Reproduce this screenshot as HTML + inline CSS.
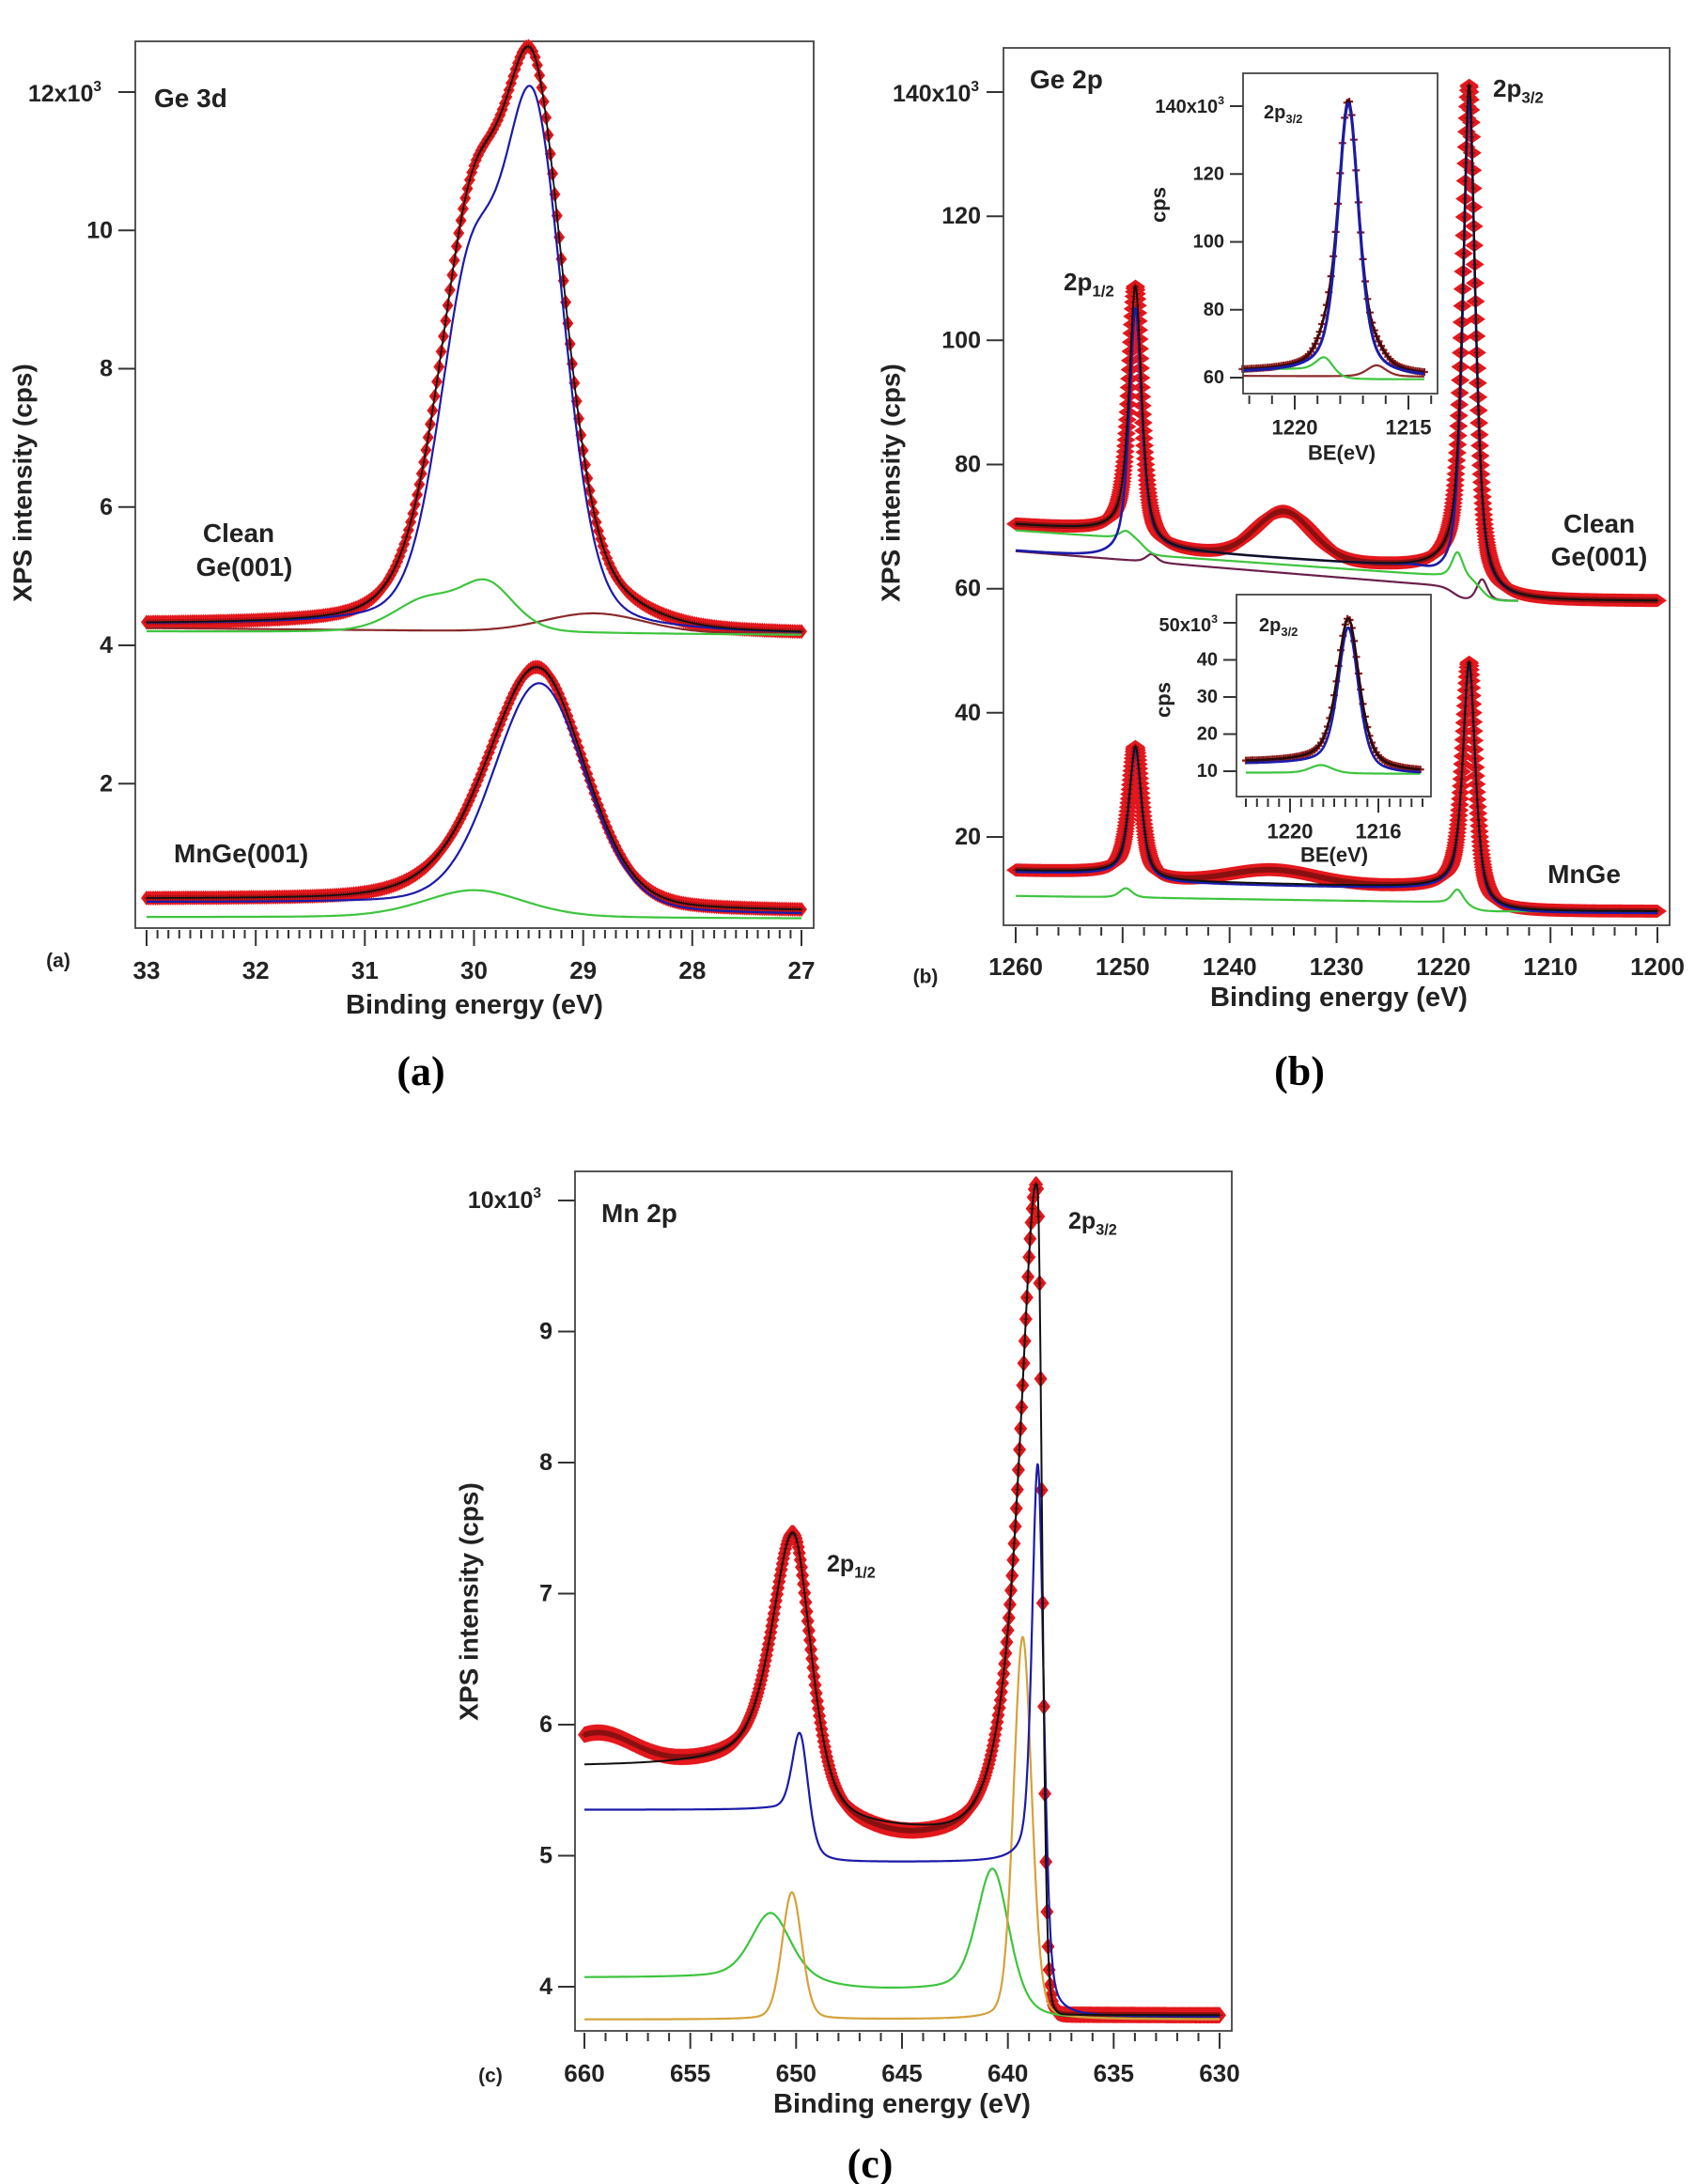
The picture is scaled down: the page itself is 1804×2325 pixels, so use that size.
<!DOCTYPE html>
<html><head><meta charset="utf-8">
<style>
html,body{margin:0;padding:0;background:#fff;}
svg{display:block;}
text{font-family:"Liberation Sans",Arial,sans-serif;font-weight:bold;fill:#222;}
.cap{font-family:"Liberation Serif","Times New Roman",serif;font-weight:bold;fill:#000;}
</style></head>
<body>
<svg id="s" xmlns="http://www.w3.org/2000/svg" width="1804" height="2325" viewBox="0 0 1804 2325">
<rect width="1804" height="2325" fill="#fff"/>
</svg>
<script>
const NS='http://www.w3.org/2000/svg';
const svg=document.getElementById('s');
function el(tag,a,txt,parent){const e=document.createElementNS(NS,tag);for(const k in a)e.setAttribute(k,a[k]);if(txt!==undefined)e.textContent=txt;(parent||svg).appendChild(e);return e;}
function mk(a,b,pa,pb){return v=>pa+(v-a)*(pb-pa)/(b-a);}
const G=(x,c,s)=>Math.exp(-(x-c)*(x-c)/(2*s*s));
const L=(x,c,g)=>g*g/(g*g+(x-c)*(x-c));
const PV=(x,c,w,eta)=>eta*L(x,c,w)+(1-eta)*G(x,c,w/1.1774);
const S=(x,c,w)=>1/(1+Math.exp(-(x-c)/w));
function curve(f,X,Y,x0,x1,n,col,sw){let d='';for(let i=0;i<=n;i++){const x=x0+(x1-x0)*i/n;d+=(i?'L':'M')+X(x).toFixed(1)+','+Y(f(x)).toFixed(1);}el('path',{d,fill:'none',stroke:col,'stroke-width':sw||2.2,'stroke-linejoin':'round'});}
function markers(f,X,Y,x0,x1,step,hw,hh){let d='',c='';const n=Math.round(Math.abs(x1-x0)/step);for(let i=0;i<=n;i++){const x=x0+(x1-x0)*i/n;const px=X(x),py=Y(f(x));d+=`M${(px).toFixed(1)},${(py-hh).toFixed(1)}L${(px+hw).toFixed(1)},${py.toFixed(1)}L${px.toFixed(1)},${(py+hh).toFixed(1)}L${(px-hw).toFixed(1)},${py.toFixed(1)}Z`;c+=`M${(px-3).toFixed(1)},${py.toFixed(1)}h6M${px.toFixed(1)},${(py-3).toFixed(1)}v6`;}
el('path',{d,fill:'#e3171c',stroke:'none'});el('path',{d:c,stroke:'#8a1010','stroke-width':1.3,fill:'none'});}
function crosses(f,X,Y,x0,x1,step,r){let c='';const n=Math.round(Math.abs(x1-x0)/step);for(let i=0;i<=n;i++){const x=x0+(x1-x0)*i/n;const px=X(x),py=Y(f(x));c+=`M${(px-r).toFixed(1)},${py.toFixed(1)}h${2*r}M${px.toFixed(1)},${(py-r).toFixed(1)}v${2*r}`;}el('path',{d:c,stroke:'#8a1a1a','stroke-width':2.2,fill:'none'});}
function frame(l,t,r,b){el('rect',{x:l,y:t,width:r-l,height:b-t,fill:'none',stroke:'#444','stroke-width':1.8});}
function xticks(X,b,list,minor,lab,fs,ly,maj,mn){let d='';for(const v of minor){d+=`M${X(v).toFixed(1)},${b+2}v${mn}`;}for(const v of list){d+=`M${X(v).toFixed(1)},${b+2}v${maj}`;el('text',{x:X(v),y:ly,'font-size':fs,'text-anchor':'middle','dominant-baseline':'central'},String(v));}el('path',{d,stroke:'#333','stroke-width':2,fill:'none'});}
function yticks(Y,l,list,labels,fs,len){let d='';list.forEach((v,i)=>{d+=`M${l},${Y(v).toFixed(1)}h${-len}`;if(labels[i]!==null){el('text',{x:l-len-6,y:Y(v),'font-size':fs,'text-anchor':'end','dominant-baseline':'central'},labels[i]);}});el('path',{d,stroke:'#333','stroke-width':2,fill:'none'});}
function range(a,b,s){const r=[];const n=Math.round((b-a)/s);for(let i=0;i<=n;i++)r.push(+(a+s*i).toFixed(3));return r;}
function sup(x,y,fs,base,exp,anchor){const t=el('text',{x,y,'font-size':fs,'text-anchor':anchor||'end'});el('tspan',{},base,t);el('tspan',{dy:-fs*0.45,'font-size':fs*0.62},exp,t);return t;}
function sub(x,y,fs,base,s){const t=el('text',{x,y,'font-size':fs});el('tspan',{},base,t);el('tspan',{dy:fs*0.25,'font-size':fs*0.65},s,t);}
function ytitle(x,y,fs,s){el('text',{x,y,'font-size':fs,'text-anchor':'middle',transform:`rotate(-90 ${x} ${y})`,'dominant-baseline':'central'},s);}

/* ================= Panel (a) ================= */
(function(){
const X=mk(33,27,156,853), Y=mk(4,12,687,98);
frame(144,44,866,988);
xticks(X,988,[33,32,31,30,29,28,27],range(27,33,0.1),0,26,1033,17,9);
yticks(Y,144,[2,4,6,8,10,12],['2','4','6','8','10',null],25,18);
sup(108,108,25,'12x10','3');
ytitle(24,514,28,'XPS intensity (cps)');
el('text',{x:505,y:1070,'font-size':29,'text-anchor':'middle','dominant-baseline':'central'},'Binding energy (eV)');
el('text',{x:62,y:1023,'font-size':21,'text-anchor':'middle','dominant-baseline':'central'},'(a)');
el('text',{x:164,y:114,'font-size':28},'Ge 3d');
el('text',{x:254,y:577,'font-size':28,'text-anchor':'middle'},'Clean');
el('text',{x:260,y:613,'font-size':28,'text-anchor':'middle'},'Ge(001)');
el('text',{x:185,y:918,'font-size':28},'MnGe(001)');
const base=x=>4.15+0.1*S(x,29.7,0.35)+0.05*(x-27)/6;
const blue=x=>base(x)+7.2*PV(x,29.45,0.33,0.25)+4.6*PV(x,30.05,0.33,0.25);
const gEx=x=>0.7*PV(x,29.88,0.3,0.3)+0.45*PV(x,30.45,0.35,0.3);
const green=x=>base(x)+gEx(x)-0.1*S(x,29.5,0.3);
const brown=x=>4.18+0.07*(x-28)/5+0.27*G(x,28.9,0.45);
const total=x=>blue(x)+gEx(x)+0.27*G(x,28.9,0.45)+0.2*G(x,29.5,0.5);
const bM=x=>0.1+0.15*S(x,29.8,0.4)+0.03*(x-27)/6;
const blueM=x=>bM(x)+3.3*PV(x,29.4,0.5,0.2);
const gM=x=>0.4*PV(x,30.0,0.55,0.3);
const greenM=x=>0.05+gM(x)+0.02*(x-27)/6;
const totM=x=>blueM(x)+gM(x)+0.05;
markers(total,X,Y,33,27,0.02,6,8);
markers(totM,X,Y,33,27,0.02,6,8);
curve(brown,X,Y,33,27,300,'#8b2a2a');
curve(green,X,Y,33,27,300,'#3ec43e');
curve(blue,X,Y,33,27,400,'#1b1ba8');
curve(total,X,Y,33,27,400,'#111',1.8);
curve(greenM,X,Y,33,27,300,'#3ec43e');
curve(blueM,X,Y,33,27,400,'#1b1ba8');
curve(totM,X,Y,33,27,400,'#111',1.8);
el('text',{x:448,y:1155,'font-size':44,'text-anchor':'middle',class:'cap'},'(a)');
})();

/* ================= Panel (b) ================= */
(function(){
const X=mk(1260,1200,1081,1764), Y=mk(20,140,891,98);
frame(1068,51,1777,985);
xticks(X,985,[1260,1250,1240,1230,1220,1210,1200],range(1200,1260,2),0,26,1029,17,9);
yticks(Y,1068,[20,40,60,80,100,120,140],['20','40','60','80','100','120',null],25,18);
sup(1042,108,25,'140x10','3');
ytitle(948,514,28,'XPS intensity (cps)');
el('text',{x:1425,y:1062,'font-size':29,'text-anchor':'middle','dominant-baseline':'central'},'Binding energy (eV)');
el('text',{x:985,y:1040,'font-size':21,'text-anchor':'middle','dominant-baseline':'central'},'(b)');
el('text',{x:1096,y:94,'font-size':28},'Ge 2p');
sub(1132,309,26,'2p','1/2');
sub(1589,103,26,'2p','3/2');
el('text',{x:1702,y:567,'font-size':28,'text-anchor':'middle'},'Clean');
el('text',{x:1702,y:602,'font-size':28,'text-anchor':'middle'},'Ge(001)');
el('text',{x:1686,y:940,'font-size':28,'text-anchor':'middle'},'MnGe');
const bg=x=>58+S(x,1218.2,0.5)*(5+0.12*(x-1220))+2.5*S(x,1248.8,0.5);
const pk=(x,a1,a2)=>a1*PV(x,1248.8,0.7,0.7)+a2*PV(x,1217.6,0.7,0.7);
const black=x=>bg(x)+pk(x,41,82);
const red=x=>black(x)+7.5*G(x,1234.9,2.6);
const purple=x=>58+S(x,1219,0.5)*(2.3+0.14*(x-1219));
const blue=x=>purple(x)+pk(x,40,81)+(bg(x)-purple(x))*S(1248.3,x,0.4)*S(x,1221.5,0.8);
const green=x=>58+S(x,1216.5,0.5)*(4.2+0.12*(x-1221))+2.5*S(x,1248,0.4)+1.2*PV(x,1249.7,0.7,0.5)+4*PV(x,1218.7,0.6,0.5);
const brown=x=>purple(x)+1.3*PV(x,1247.3,0.6,0.5)+3.5*PV(x,1216.4,0.6,0.5);
markers(red,X,Y,1260,1200,0.04,10,7);
curve(brown,X,Y,1260,1213,900,'#6a1f4a');
curve(green,X,Y,1260,1213,900,'#3ec43e');
curve(blue,X,Y,1260,1213,1500,'#1b1ba8',2.6);
curve(black,X,Y,1260,1200,1500,'#111',2);
// MnGe
const bgM=x=>8+S(x,1218,0.5)*(3.8+0.04*(x-1220))+1.2*S(x,1248.8,0.5);
const blackM=x=>bgM(x)+21*PV(x,1248.8,0.7,0.7)+39*PV(x,1217.6,0.7,0.7);
const redM=x=>blackM(x)+2.2*G(x,1236,4);
const greenM=x=>8+S(x,1217.5,0.5)*(1.5+0.025*(x-1220))+1.5*PV(x,1249.7,0.7,0.5)+2.2*PV(x,1218.7,0.6,0.5);
markers(redM,X,Y,1260,1200,0.04,10,7);
curve(greenM,X,Y,1260,1200,900,'#3ec43e');
curve(x=>blackM(x)-0.3,X,Y,1260,1200,1500,'#1b1ba8',2.4);
curve(blackM,X,Y,1260,1200,1500,'#111',2);

/* inset 1 */
el('rect',{x:1323,y:78,width:207,height:341,fill:'#fff'});
const X1=mk(1220,1215,1378,1499), Y1=mk(60,140,402,113);
const b1=x=>60+1.5*S(x,1217.6,0.5);
const bl1=x=>b1(x)+80*PV(x,1217.64,0.55,0.55);
const ge1=x=>4.5*PV(x,1218.67,0.45,0.4);
const g1=x=>59.5+3*S(x,1218.5,0.3)+ge1(x);
const br1=x=>60.3+0.2*(x-1216)/6+3.3*PV(x,1216.4,0.5,0.4);
const t1=x=>bl1(x)+ge1(x)+3.3*PV(x,1216.4,0.5,0.4)+0.4;
crosses(t1,X1,Y1,1222.3,1214.3,0.1,4);
curve(br1,X1,Y1,1222.3,1214.3,300,'#8b2a2a');
curve(g1,X1,Y1,1222.3,1214.3,300,'#3ec43e');
curve(t1,X1,Y1,1222.3,1214.3,400,'#3a0a0a',2.6);
curve(bl1,X1,Y1,1222.3,1214.3,400,'#1b1ba8',3);
frame(1323,78,1530,419);
xticks(X1,419,[1220,1215],range(1214,1222,1),0,22,455,15,9);
yticks(Y1,1323,[60,80,100,120,140],['60','80','100','120',null],20,14);
sup(1303,120,20,'140x10','3');
sub(1345,126,20,'2p','3/2');
ytitle(1233,218,22,'cps');
el('text',{x:1428,y:482,'font-size':22,'text-anchor':'middle','dominant-baseline':'central'},'BE(eV)');

/* inset 2 */
el('rect',{x:1316,y:633,width:207,height:215,fill:'#fff'});
const X2=mk(1220,1216,1373,1467), Y2=mk(10,50,821,663);
const b2=x=>9.7+2.8*S(x,1217.3,0.5);
const bl2=x=>b2(x)+40*PV(x,1217.36,0.6,0.6);
const g2=x=>9.3+0.3*S(x,1218.5,1)+2.2*PV(x,1218.6,0.6,0.4);
crosses(bl2,X2,Y2,1222,1214.1,0.1,4);
curve(g2,X2,Y2,1222,1214.1,300,'#3ec43e');
curve(x=>b2(x)-0.5+38*PV(x,1217.36,0.55,0.5),X2,Y2,1222,1214.1,400,'#1b1ba8',2.6);
curve(bl2,X2,Y2,1222,1214.1,400,'#2a0a0a',2.6);
frame(1316,633,1523,848);
xticks(X2,848,[1220,1216],range(1214,1222,0.5),0,22,885,15,9);
yticks(Y2,1316,[10,20,30,40,50],['10','20','30','40',null],20,14);
sup(1296,672,20,'50x10','3');
sub(1340,672,20,'2p','3/2');
ytitle(1238,745,22,'cps');
el('text',{x:1420,y:910,'font-size':22,'text-anchor':'middle','dominant-baseline':'central'},'BE(eV)');
el('text',{x:1383,y:1155,'font-size':44,'text-anchor':'middle',class:'cap'},'(b)');
})();

/* ================= Panel (c) ================= */
(function(){
const X=mk(660,630,622,1298), Y=mk(4,10,2115,1278);
frame(612,1247,1311,2162);
xticks(X,2162,[660,655,650,645,640,635,630],range(630,660,1),0,26,2207,17,9);
yticks(Y,612,[4,5,6,7,8,9,10],['4','5','6','7','8','9',null],25,18);
sup(576,1286,25,'10x10','3');
ytitle(499,1705,28,'XPS intensity (cps)');
el('text',{x:960,y:2240,'font-size':29,'text-anchor':'middle','dominant-baseline':'central'},'Binding energy (eV)');
el('text',{x:522,y:2210,'font-size':21,'text-anchor':'middle','dominant-baseline':'central'},'(c)');
el('text',{x:640,y:1301,'font-size':28},'Mn 2p');
sub(1137,1308,25,'2p','3/2');
sub(880,1673,25,'2p','1/2');
const tail=x=>{const d=x-638.6;return d>=0?5.05*(1/(1+(d/1.1)*(d/1.1)))*Math.exp(-d*d/8):5.05*Math.exp(-d*d/(2*0.2*0.2));};
const p2=x=>{const d=x-650.1;const w=d>0?1.2:1.0;return 2.0*(0.6*L(x,650.1,w)+0.4*G(x,650.1,w/1.1774));};
const black=x=>3.78+1.42*S(x,638.3,0.15)+0.48*S(x,650,0.7)+tail(x)+p2(x);
const red=x=>black(x)+0.24*G(x,659.4,1.7)-0.05*G(x,645,1.5);
const blue=x=>3.77+1.18*S(x,638.6,0.12)+0.4*S(x,649.8,0.35)+3.7*PV(x,638.55,0.32,0.4)+0.78*PV(x,649.8,0.45,0.4);
const gold=x=>3.75+0.97*PV(x,650.2,0.55,0.2)+2.92*PV(x,639.3,0.5,0.2);
const green=x=>3.75+0.22*S(x,640,0.6)+0.1*S(x,649,1)+0.5*PV(x,651.2,1.1,0.4)+0.98*PV(x,640.7,0.9,0.4);
markers(red,X,Y,660,630,0.05,7,9);
curve(green,X,Y,660,630,800,'#3ec43e');
curve(gold,X,Y,660,630,800,'#d4a23a');
curve(blue,X,Y,660,630,1200,'#1b1ba8');
curve(black,X,Y,660,630,1500,'#111',2);
el('text',{x:926,y:2318,'font-size':44,'text-anchor':'middle',class:'cap'},'(c)');
})();
</script>
</body></html>
